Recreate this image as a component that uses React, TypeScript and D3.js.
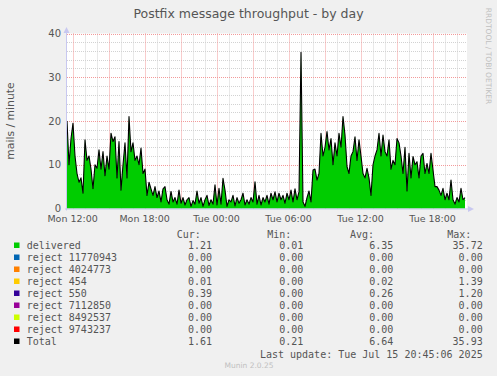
import React from "react";
import * as d3 from "d3";

const W = 497;
const H = 376;

// Chart content
const title = "Postfix message throughput - by day";
const yLabel = "mails / minute";
const yTicks = [0, 10, 20, 30, 40];
const startTime = new Date(2025, 6, 14, 11, 32);
const endTime = new Date(2025, 6, 15, 20, 52);
const sampleMinutes = 10;

// mails/minute, one value per 10 minutes
const delivered = [
  20, 10, 16, 19.5, 12, 8, 6, 7, 3.5, 15.7,
  11, 12, 9, 4.5, 10, 9.2, 13.4, 9, 13, 7.5,
  12, 9, 17.2, 15.3, 16.4, 7, 15.3, 4.2, 10, 15,
  7, 21, 13, 15, 11, 12, 10, 13.8, 8, 9,
  3, 6, 4.5, 3, 5, 2.5, 4, 1.5, 4.5, 5,
  2, 1, 3.9, 1.5, 2.5, 1, 4.2, 1.2, 2.5, 0.8,
  2, 2.5, 0.5, 1.8, 1, 4, 1.2, 2.5, 0.5, 2,
  3, 0.7, 2, 1, 5.4, 0.8, 4.6, 1, 6.9, 4.2,
  0.5, 2, 1.5, 3, 0.6, 2.5, 1.2, 2, 3.5, 0.8,
  2, 1, 2.5, 1.5, 6.1, 1, 3, 0.8, 2.5, 1.5,
  3, 1, 3.5, 2, 3.8, 1.5, 3.5, 2, 3, 1.2,
  3.5, 2, 4.2, 1.5, 4.5, 2, 3.8, 35.72, 1.5, 0.5,
  2.5, 4, 1.5, 8.8, 9, 6.5, 8, 17.2, 12, 14,
  17.6, 13.4, 16, 10, 15, 12, 17.2, 14, 21, 16.8,
  9.6, 8, 12, 13, 16.4, 11, 15.7, 12, 8, 7,
  9.2, 7, 3, 10, 12, 13.4, 17.2, 12, 16.8, 13,
  12, 15.7, 9, 11, 10, 16, 15, 12, 8, 14,
  4, 12.6, 7, 11.9, 10, 10.7, 7, 12, 12.6, 8,
  10.3, 8, 12.6, 8.8, 5, 5, 4.2, 3, 4.6, 2,
  3.5, 2, 6.5, 2, 1, 2.5, 1.5, 4.6, 2, 2.5,
];

// Legend
const legendNames = [
  "delivered", "reject 11770943", "reject 4024773", "reject 454",
  "reject 550", "reject 7112850", "reject 8492537", "reject 9743237", "Total",
];
const legendColors = [
  "#00CC00", "#0066B3", "#FF8000", "#FFCC00",
  "#330099", "#990099", "#CCFF00", "#FF0000", "#000000",
];
const curValues = ["1.21", "0.00", "0.00", "0.01", "0.39", "0.00", "0.00", "0.00", "1.61"];
const minValues = ["0.01", "0.00", "0.00", "0.00", "0.00", "0.00", "0.00", "0.00", "0.21"];
const avgValues = ["6.35", "0.00", "0.00", "0.02", "0.26", "0.00", "0.00", "0.00", "6.64"];
const maxValues = ["35.72", "0.00", "0.00", "1.39", "1.20", "0.00", "0.00", "0.00", "35.93"];
const lastUpdate = "Last update: Tue Jul 15 20:45:06 2025";
const footer = "Munin 2.0.25";
const sideText = "RRDTOOL / TOBI OETIKER";

const PL = 67, PR = 467, PT = 33.5, PB = 208.5;

export default function App() {
  React.useEffect(() => {
    document.body.style.margin = "0";
  }, []);

  const x = d3.scaleTime().domain([startTime, endTime]).range([PL, PR]);
  const y = d3.scaleLinear().domain([0, 40]).range([PB, PT]);

  const pts = delivered.map((v, i) => ({
    t: new Date(startTime.getTime() + i * sampleMinutes * 60000),
    v,
  }));

  const area = d3.area<any>().x((d) => x(d.t)).y0(y(0)).y1((d) => y(d.v));
  const line = d3.line<any>().x((d) => x(d.t)).y((d) => y(d.v));

  const hours = x.ticks(d3.timeHour.every(1) as any);
  const minorY = d3.range(0, 41, 2);
  const fmt = d3.timeFormat("%a %H:%M");

  const sans = "DejaVu Sans, sans-serif";
  const mono = "DejaVu Sans Mono, monospace";
  const txt = "#555555";
  const rowY = (i: number) => 249 + i * 12;
  const minorC = "#D2D2D2";
  const majorC = "#F29A9A";

  return (
    <svg width={W} height={H} style={{ position: "absolute", left: 0, top: 0, display: "block" }}>
      <rect x={0} y={0} width={W} height={H} fill="#F0F0F0" />
      <rect x={PL} y={PT} width={PR - PL} height={PB - PT} fill="#FFFFFF" />

      {/* minor grid */}
      {minorY.filter((v) => v % 10 !== 0).map((v) => (
        <line key={"hy" + v} x1={PL} x2={PR} y1={Math.round(y(v)) + 0.5} y2={Math.round(y(v)) + 0.5}
          stroke={minorC} strokeDasharray="1,1" strokeWidth={1} />
      ))}
      {hours.filter((h) => h.getHours() % 3 !== 0).map((h, i) => (
        <line key={"vx" + i} x1={Math.round(x(h)) + 0.5} x2={Math.round(x(h)) + 0.5} y1={PT} y2={PB}
          stroke={minorC} strokeDasharray="1,1" strokeWidth={1} />
      ))}
      {/* major grid */}
      {yTicks.filter((v) => v > 0).map((v) => (
        <line key={"my" + v} x1={PL} x2={PR} y1={Math.round(y(v)) + 0.5} y2={Math.round(y(v)) + 0.5}
          stroke={majorC} strokeDasharray="1,1" strokeWidth={1} />
      ))}
      {hours.filter((h) => h.getHours() % 3 === 0).map((h, i) => (
        <line key={"mx" + i} x1={Math.round(x(h)) + 0.5} x2={Math.round(x(h)) + 0.5} y1={PT} y2={PB}
          stroke={majorC} strokeDasharray="1,1" strokeWidth={1} />
      ))}

      {/* data */}
      <path d={area(pts) || ""} fill="#00CC00" />
      <path d={line(pts) || ""} fill="none" stroke="#000000" strokeWidth={1.1} strokeLinejoin="round" />

      {/* axes */}
      <line x1={PL - 0.5} x2={PL - 0.5} y1={PT - 3} y2={PB + 2} stroke="#C8C8F0" strokeWidth={1} />
      <line x1={PL - 2} x2={PR + 3} y1={PB + 0.5} y2={PB + 0.5} stroke="#C8C8F0" strokeWidth={1} />
      <path d={`M${PL - 3.5},${PT - 0.5} L${PL + 2.5},${PT - 0.5} L${PL - 0.5},${PT - 6.5} Z`} fill="#C8C8F0" />
      <path d={`M${PR + 1},${PB - 2.5} L${PR + 1},${PB + 3.5} L${PR + 7},${PB + 0.5} Z`} fill="#C8C8F0" />

      {/* y tick labels */}
      {yTicks.map((v) => (
        <text key={"yt" + v} x={61} y={y(v) + 3.5} textAnchor="end" fontFamily={sans} fontSize={10} fill={txt}>
          {v}
        </text>
      ))}
      {/* x tick labels */}
      {hours.filter((h) => h.getHours() % 6 === 0).map((h, i) => (
        <text key={"xt" + i} x={x(h)} y={221.5} textAnchor="middle" fontFamily={sans} fontSize={9.5} fill={txt}>
          {fmt(h)}
        </text>
      ))}

      {/* title & labels */}
      <text x={248.5} y={17.5} textAnchor="middle" fontFamily={sans} fontSize={12.5} fill={txt}>{title}</text>
      <text transform={`translate(14,121) rotate(-90)`} textAnchor="middle" fontFamily={sans} fontSize={10.8} fill={txt}>
        {yLabel}
      </text>
      <text transform={`translate(485.5,56) rotate(90)`} textAnchor="middle" fontFamily={sans} fontSize={7.5} fill="#C0C0C0">
        {sideText}
      </text>

      {/* legend */}
      <g fontFamily={mono} fontSize={10} fill={txt}>
        <text x={176.7} y={237.5}>Cur:</text>
        <text x={267.3} y={237.5}>Min:</text>
        <text x={350} y={237.5}>Avg:</text>
        <text x={447.3} y={237.5}>Max:</text>
        {legendNames.map((n, i) => (
          <g key={n}>
            <rect x={14} y={rowY(i) - 6.5} width={5.5} height={5.5} fill={legendColors[i]} />
            <text x={26.7} y={rowY(i)}>{n}</text>
            <text x={212} y={rowY(i)} textAnchor="end">{curValues[i]}</text>
            <text x={303.3} y={rowY(i)} textAnchor="end">{minValues[i]}</text>
            <text x={393.3} y={rowY(i)} textAnchor="end">{avgValues[i]}</text>
            <text x={482.7} y={rowY(i)} textAnchor="end">{maxValues[i]}</text>
          </g>
        ))}
        <text x={482.7} y={357.5} textAnchor="end">{lastUpdate}</text>
      </g>
      <text x={249} y={368} textAnchor="middle" fontFamily={sans} fontSize={7.5} fill="#C0C0C0">{footer}</text>
    </svg>
  );
}
